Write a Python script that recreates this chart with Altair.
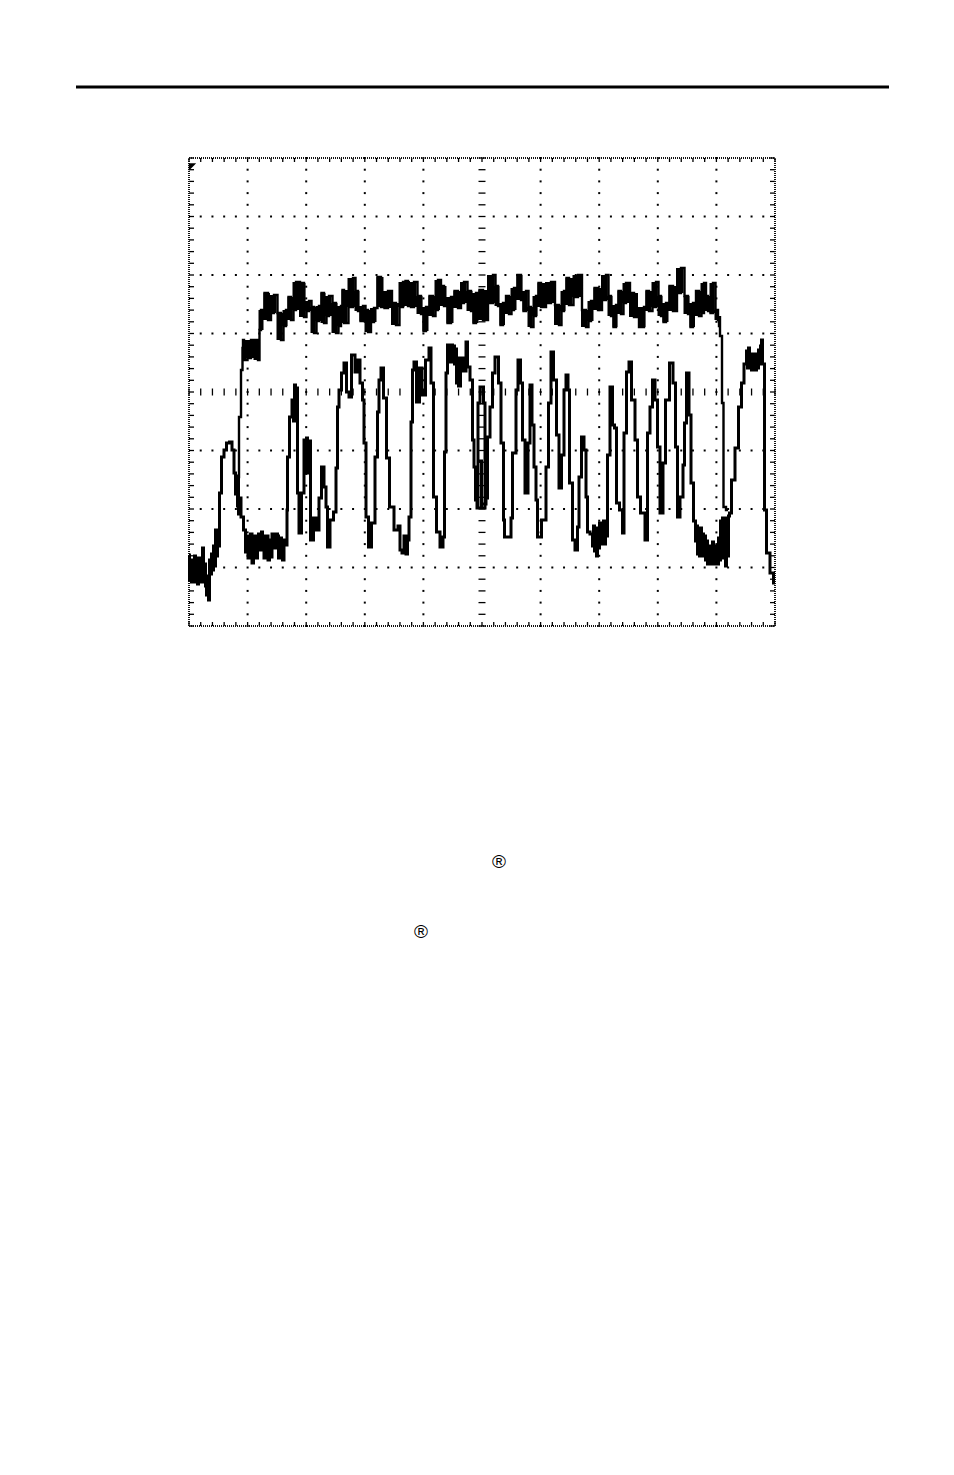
import altair as alt
import pandas as pd

# Oscilloscope raster: 10 divisions across, 8 down
DIV_X, DIV_Y = 58.6, 58.5
X_MAX, Y_MAX = 586, 468

noise_a_t = list(range(0, 31))
noise_a_v = [71,46,62,44,66,48,70,44,60,42,68,46,64,44,78,48,62,40,31,50,26,66,52,72,56,80,60,96,70,92,80]
rise_a_t = [31,34,36,39,42,44,46,47,48,49,49,50,51,53]
rise_a_v = [133,169,176,183,184,176,153,132,150,120,149,112,128,109]
noise_b_t = list(range(56, 99, 2)) + [98]
noise_b_v = [96,90,88,92,86,90,88,92,94,90,88,90,86,92,88,92,90,88,86,86,84,81,116]
spikes_b_t = [57,61,65,69,73,77,81,85,89,93,96,98]
spikes_b_v = [74,68,63,68,76,68,66,69,78,68,66,81]
noise_b_t = sorted(noise_b_t + spikes_b_t)
noise_b_v = [96,74,90,68,88,92,63,86,90,68,88,92,76,94,90,68,88,90,66,86,69,92,88,78,92,90,68,88,86,66,86,84,81,81,116]
mid_a_t = [99,102,104,105,106,107,108,109,111,114,116,117,118,119,120,123,126,129,131,134,136,138,139,143,146,148,149,151,154,156,159,161,164,168,169,173,174,176,178,
181,184,188,189,191,193,196,199,202,208]
mid_a_v = [169,209,226,205,241,206,238,133,93,133,186,153,188,153,185,86,108,96,128,159,139,119,79,106,114,158,219,236,253,263,234,229,271,254,266,243,226,183,109,
79,103,169,214,246,258,228,168,119,96]
mid_b_t = [210,212,214,216,218,219,221,223,224,226,229,232,234,239,241,243,246,249,253,255,256,258,259,260,261,262,263,264,265,266,267,268,269,270,273,276,278,279,283,284,286,287]
mid_b_v = [100,76,73,90,72,86,109,204,256,264,224,258,231,266,278,243,129,94,79,89,174,253,281,266,281,264,281,268,280,262,277,243,268,240,268,255,284,259,246,186,159,126]
box_t = [289,289,293,296,296,289,289,296,289,296]
box_v = [118,223,239,223,118,118,165,118,125,122]
mid_c_t = [298,299,303,304,308,311,313,314,315,316,321,323,324,326,328,330,333,334,338,340,342,344,346,348,349,
356,358,361,363,366,369,371,374,376,378,380,381,383,384,388,389,391,394,396,398,399,403]
mid_c_v = [128,189,219,253,269,243,183,183,106,89,89,108,173,173,236,266,243,186,133,183,241,201,159,126,89,
106,159,223,274,246,191,138,171,236,251,236,143,143,86,76,99,149,189,176,129,94,92]
noise_c_t = list(range(404, 419))
noise_c_v = [80,100,75,95,70,98,78,103,82,102,85,105,82,100,90]
mid_d_t = [419,423,424,427,428,433,434,436,439,441,444,448,449,454,458,459,463,464,468,469,473,475,478,483,485,488,489,493,495,496,499,501,503]
mid_d_v = [171,239,201,198,123,116,93,193,254,264,226,186,129,113,86,193,219,246,226,179,113,163,226,263,243,179,109,129,161,203,253,211,143]
noise_d_t = list(range(506, 541))
noise_d_v = [105,85,100,72,95,70,98,78,92,70,90,66,85,62,80,64,78,62,84,64,80,62,75,62,88,66,105,78,108,68,108,60,104,70,110]
end_t = [541,544,548,551,554,556,557,558,559,560,561,562,563,564,565,566,567,568,569,570,571,572,573,574,575,576,579,583,586]
end_v = [113,146,178,219,243,262,262,275,258,278,260,272,256,270,258,272,256,270,258,276,262,280,286,262,262,116,73,53,43]

lower_t = noise_a_t + rise_a_t + noise_b_t + mid_a_t + mid_b_t + box_t + mid_c_t + noise_c_t + mid_d_t + noise_d_t + end_t
lower_v = noise_a_v + rise_a_v + noise_b_v + mid_a_v + mid_b_v + box_v + mid_c_v + noise_c_v + mid_d_v + noise_d_v + end_v

# upper trace: read as the top and bottom of its noise band
upper_t = [54,61,68,71,78,84,91,96,101,106,114,119,124,129,134,139,146,151,154,163,168,173,178,184,191,198,206,213,218,224,231,236,
243,248,254,261,268,274,281,286,293,303,308,313,319,324,331,336,341,346,351,361,369,374,379,388,396,401,408,416,421,426,431,436,
444,454,459,466,471,476,483,491,498,503,509,514,518,523,528,530]
upper_hi = [286,286,286,316,333,331,313,316,329,344,343,325,319,320,333,330,323,320,336,348,335,320,316,318,349,335,323,344,345,344,330,319,
330,346,340,329,335,344,335,333,336,351,340,323,330,338,351,335,319,330,343,344,321,335,348,351,316,325,338,351,330,321,335,343,
333,319,335,344,330,323,340,358,330,323,335,343,330,343,316,310]
upper_lo = [266,268,266,296,306,313,286,300,306,316,309,315,293,305,303,310,293,300,303,319,315,305,294,304,319,318,301,319,320,319,312,295,
310,316,320,303,318,323,315,303,306,323,320,301,312,316,326,315,299,310,319,323,301,315,321,329,299,305,316,326,310,299,312,323,
309,299,315,319,310,304,315,333,312,299,310,313,315,313,306,300]
rise_t = [49,51,53,54]
rise_v = [149,209,256,278]
fall_t = [530,532,534,535,539]
fall_v = [300,290,223,119,116]

reg_t = [310,232]
reg_v = [-236,-306]
reg_text = ["®","®"]

# zigzag the band so the trace looks like noise
up_t, up_v = list(rise_t), list(rise_v)
for i, (t, h, l) in enumerate(zip(upper_t, upper_hi, upper_lo)):
    pair = [(t, h), (t + 2, l)] if i % 2 == 0 else [(t, l), (t + 2, h)]
    for a, b in pair:
        up_t.append(a); up_v.append(b)
up_t += fall_t; up_v += fall_v

# graticule
ticks = []
dots = []
nx, ny = 50, 40
for i in range(nx + 1):
    x = i * DIV_X / 5
    ticks.append((x, x, 0, 4))
    ticks.append((x, x, Y_MAX - 4, Y_MAX))
    ticks.append((x, x, 4 * DIV_Y - 3.5, 4 * DIV_Y + 3.5))
    for k in range(1, 8):
        if k != 4 and i % 5 != 0:
            dots.append((x, k * DIV_Y))
for j in range(ny + 1):
    y = j * DIV_Y / 5
    ticks.append((0, 5, y, y))
    ticks.append((X_MAX - 5, X_MAX, y, y))
    ticks.append((5 * DIV_X - 3.5, 5 * DIV_X + 3.5, y, y))
    for k in range(1, 10):
        if k != 5:
            dots.append((k * DIV_X, y))

X = alt.X("x:Q", scale=alt.Scale(domain=[0, X_MAX]), axis=None)
Y = alt.Y("y:Q", scale=alt.Scale(domain=[0, Y_MAX]), axis=None)

dots_l = alt.Chart(pd.DataFrame(dots, columns=["x", "y"])).mark_square(size=4, color="#000", opacity=1).encode(X, Y)
ticks_l = alt.Chart(pd.DataFrame(ticks, columns=["x", "x1", "y", "y1"])).mark_rule(
    color="#000", strokeWidth=1.3).encode(X, x2="x1:Q", y=Y, y2="y1:Q")
frame = pd.DataFrame({"x": [0, 0, 0, X_MAX], "x1": [X_MAX, X_MAX, 0, X_MAX],
                      "y": [0, Y_MAX, 0, 0], "y1": [0, Y_MAX, Y_MAX, Y_MAX]})
frame_l = alt.Chart(frame).mark_rule(color="#111", strokeWidth=2, strokeDash=[1, 1]).encode(X, x2="x1:Q", y=Y, y2="y1:Q")

marker = alt.Chart(pd.DataFrame({"x": [3.5], "y": [459]})).mark_point(
    shape="M-1,-1L1,-1L-1,1Z", filled=True, color="#000", size=55, opacity=1).encode(X, Y)

band = alt.Chart(pd.DataFrame({"x": upper_t, "y": upper_hi, "y1": upper_lo})).mark_area(
    color="#000", interpolate="step").encode(X, Y, y2="y1:Q")
upper_l = alt.Chart(pd.DataFrame({"x": up_t, "y": up_v, "o": range(len(up_t))})).mark_line(
    color="#000", strokeWidth=2.4, interpolate="step", strokeJoin="miter").encode(X, Y, order="o:Q")
lower_l = alt.Chart(pd.DataFrame({"x": lower_t, "y": lower_v, "o": range(len(lower_t))})).mark_line(
    color="#000", strokeWidth=3, interpolate="step", strokeJoin="miter").encode(X, Y, order="o:Q")

top_rule = alt.Chart(pd.DataFrame({"x": [-113], "x1": [700], "y": [539]})).mark_rule(
    color="#000", strokeWidth=3).encode(X, x2="x1:Q", y=Y)
reg = alt.Chart(pd.DataFrame({"x": reg_t, "y": reg_v, "t": reg_text})).mark_text(
    font="Liberation Sans", fontSize=19, color="#000", align="center", baseline="middle").encode(X, Y, text="t:N")

chart = alt.layer(dots_l, ticks_l, frame_l, marker, band, upper_l, lower_l, top_rule, reg).properties(
    width=X_MAX, height=Y_MAX,
    padding={"left": 181, "top": 150, "right": 170, "bottom": 830},
    autosize=alt.AutoSizeParams(type="none"),
    background="white",
).configure_view(stroke=None)

chart.save("out.html", embed_options={"renderer": "svg", "actions": False})
